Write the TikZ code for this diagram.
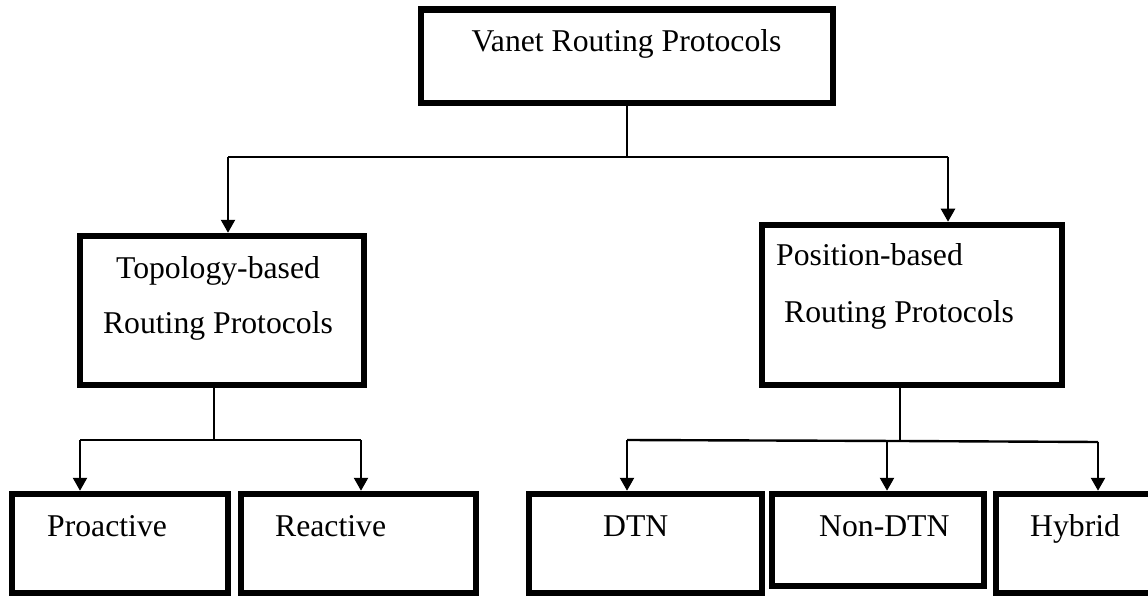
\documentclass[tikz,border=0pt]{standalone}
\usepackage{fontspec}
\setmainfont{Liberation Serif}
\usetikzlibrary{arrows.meta}
\begin{document}
\begin{tikzpicture}[x=1pt,y=-1pt,
  box/.style={draw=black,line width=6.5pt,inner sep=0pt,rectangle},
  lbl/.style={inner sep=0pt,font=\fontsize{31.7}{38}\selectfont},
  conn/.style={draw=black,line width=2.4pt},
  arr/.style={conn,-{Triangle[width=14pt,length=13pt]}}]
\useasboundingbox (0,0) rectangle (1148,596);
\clip (0,0) rectangle (1148,596);
% boxes
\node[box,minimum width=412pt,minimum height=93.5pt] (top) at (627,56.25) {};
\node[box,minimum width=284pt,minimum height=149pt] (topo) at (222,310.5) {};
\node[box,minimum width=300pt,minimum height=160pt] (pos) at (912,305) {};
\node[box,minimum width=216pt,minimum height=99pt] (pro) at (120,543.5) {};
\node[box,minimum width=235pt,minimum height=99pt] (rea) at (358.5,543.5) {};
\node[box,minimum width=233pt,minimum height=99pt] (dtn) at (645.5,543.5) {};
\node[box,minimum width=212pt,minimum height=92pt] (ndtn) at (878,540) {};
\node[box,minimum width=170pt,minimum height=99pt] (hyb) at (1081,543.5) {};
% labels
\node[lbl,anchor=base] (ttop) at (626.5,52) {Vanet Routing Protocols};
\node[lbl,anchor=base] (ttopo1) at (218,278) {Topology-based};
\node[lbl,anchor=base] (ttopo2) at (218,333) {Routing Protocols};
\node[lbl,anchor=base west] (tpos1) at (776,265) {Position-based};
\node[lbl,anchor=base west] (tpos2) at (784,322) {Routing Protocols};
\node[lbl,anchor=base west] (tpro) at (47,536) {Proactive};
\node[lbl,anchor=base west] (trea) at (275,536) {Reactive};
\node[lbl,anchor=base west] (tdtn) at (603,536) {DTN};
\node[lbl,anchor=base west] (tndtn) at (819,536) {Non-DTN};
\node[lbl,anchor=base west] (thyb) at (1030,536) {Hybrid};
% junction points
\coordinate (a0) at (627,157);
\coordinate (a1) at (228,157);
\coordinate (a2) at (948,157);
\coordinate (b0) at (214,440);
\coordinate (b1) at (80,440);
\coordinate (b2) at (361,440);
\coordinate (c0) at (900,441);
\coordinate (c1) at (627,440);
\coordinate (c2) at (887,441);
\coordinate (c3) at (1098,442);
% connectors
\draw[conn] (top.south) -- (a0);
\draw[conn] (a1) -- (a2);
\draw[arr] (a1) -- (a1 |- topo.north);
\draw[arr] (a2) -- (a2 |- pos.north);
\draw[conn] (b0 |- topo.south) -- (b0);
\draw[conn] (b1) -- (b2);
\draw[arr] (b1) -- (b1 |- pro.north);
\draw[arr] (b2) -- (b2 |- rea.north);
\draw[conn] (c0 |- pos.south) -- (c0);
\draw[conn] (c1) -- (c0) -- (c3);
\draw[arr] (c1) -- (c1 |- dtn.north);
\draw[arr] (c2) -- (c2 |- ndtn.north);
\draw[arr] (c3) -- (c3 |- hyb.north);
\end{tikzpicture}
\end{document}
